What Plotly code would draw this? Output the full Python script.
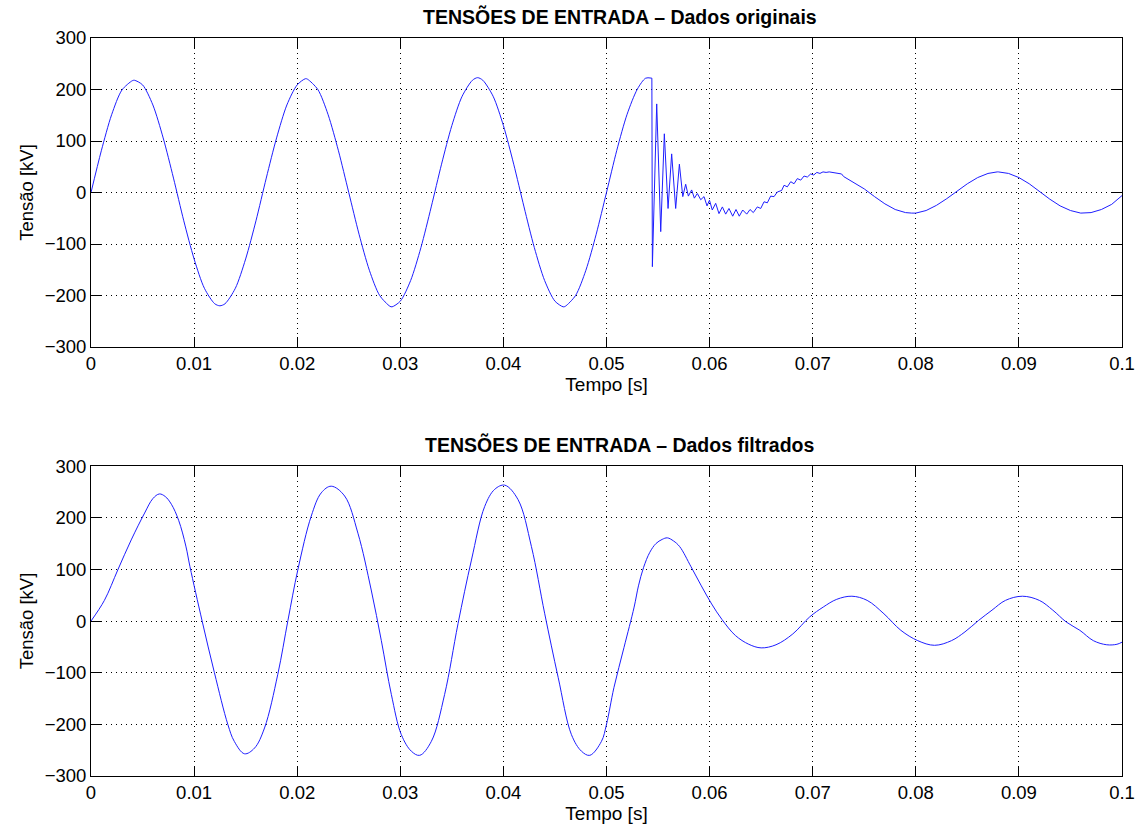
import plotly.graph_objects as go

# ---------------- data ----------------
# original data, before the fault (smooth sine part)
t_orig_pre = [0, .001, .002, .003, .004, .0042, .005, .006, .007, .008, .009, .010, .011, .012, .0125,
              .013, .014, .015, .016, .017, .018, .019, .020, .0208, .021, .022, .023, .024, .025, .026,
              .027, .028, .029, .0292, .030, .031, .032, .033, .034, .035, .036, .037, .0375, .038, .039,
              .040, .041, .042, .043, .044, .045, .0458, .046, .047, .048, .049, .050, .051, .052, .053,
              .0538, .0544]
v_orig_pre = [0, 81, 151, 199, 217, 218, 209, 170, 106, 28, -55, -129, -186, -216, -220,
              -216, -186, -129, -55, 28, 106, 170, 209, 221, 220, 200, 151, 81, 0, -81,
              -151, -200, -221, -222, -211, -171, -107, -28, 55, 130, 187, 218, 223, 218, 187,
              130, 55, -28, -107, -171, -211, -222, -221, -200, -151, -81, 0, 82, 152, 201,
              222, 222]
# original data, fault transient and after
t_orig_post = [.0544, .05445, .05487, .05526, .05561, .05597, .05632, .05671, .05707, .0574, .05768, .05794,
               .05826, .05852, .05881, .05914, .05946, .05975, .05999, .06026, .06059, .06091, .06124,
               .06156, .06188, .06224, .06256, .06288, .06321, .0636, .06392, .06424, .06463, .06496,
               .06528, .0656, .06592, .06625, .06657, .06699, .06722, .06754, .06787, .06819, .06851,
               .06884, .06916, .06948, .0698, .0701, .0704, .0707, .0710, .0713, .0716, .0720, .0724,
               .0728, .073, .074, .075, .076, .077, .078, .079, .0796, .080, .081, .082, .083, .084, .085,
               .086, .087, .0879, .088, .089, .090, .091, .092, .093, .094, .095, .096, .0963, .097, .098,
               .099, .100]
v_orig_post = [222, -144, 172, -76, 114, -31, 75, -31, 55, -8, 16, -7,
               5, -11, -2, -14, -8, -26, -15, -34, -21, -41, -28,
               -42, -31, -46, -33, -46, -34, -42, -33, -39, -28, -31,
               -18, -20, -7, -8, 1, 4, 14, 11, 21, 17, 27,
               24, 32, 30, 36, 34, 39, 37, 40, 39, 40, 39, 37,
               36, 31, 19, 7, -8, -22, -33, -39, -40, -40, -35, -25, -12, 3, 17,
               29, 37, 40, 40, 37, 29, 17, 2, -13, -26, -35, -40, -40, -39, -33,
               -23, -6]

t_filt = [0, .0013, .0026, .0039, .0052, .0060, .00663, .0072, .0078, .0085, .0092, .0096, .01078, .01197,
          .01327, .0139, .01489, .01586, .01683, .01812, .0191, .02006, .02136, .02233, .0233, .0246,
          .02589, .02718, .02816, .02913, .0301, .03107, .03188, .03301, .0343, .0356, .0369,
          .03819, .03916, .04013, .04142, .04272, .04401, .04531, .0466, .04757, .04838, .04951,
          .0500, .05072, .0517, .05268, .0531, .0536, .0542, .0548, .0554, .0559, .0565, .0571,
          .0582, .0592, .0602, .0612, .0625, .0638, .0650, .06644, .06807, .06971, .07102, .07233,
          .0738, .07528, .07691, .07855, .08019, .08182, .08346, .08477, .08608, .08739, .0887,
          .09034, .09198, .09329, .0946, .09591, .09722, .09852, .09951, .1]
v_filt = [0, 40, 99, 157, 209, 237, 246, 241, 226, 195, 145, 105, 0, -100,
          -200, -233, -257, -246, -207, -103, 1, 99, 203, 248, 261, 242,
          170, 60, -38, -142, -220, -252, -260, -233, -142, -5, 118,
          222, 255, 263, 235, 144, 14, -109, -220, -252, -260, -233,
          -200, -129, -51, 27, 68, 104, 133, 150, 158, 161, 155, 144,
          105, 68, 33, 3, -28, -45, -52, -46, -25, 8, 27, 42,
          48, 40, 14, -18, -38, -47, -38, -21, 1, 21, 40,
          48, 40, 21, -2, -18, -38, -46, -45, -41]

x_ticks = [0, 0.01, 0.02, 0.03, 0.04, 0.05, 0.06, 0.07, 0.08, 0.09, 0.1]
x_ticklabels = ["0", "0.01", "0.02", "0.03", "0.04", "0.05", "0.06", "0.07", "0.08", "0.09", "0.1"]
y_ticks = [-300, -200, -100, 0, 100, 200, 300]
y_ticklabels = ["\u2212300", "\u2212200", "\u2212100", "0", "100", "200", "300"]

titles = ["TENSÕES DE ENTRADA \u2013 Dados originais", "TENSÕES DE ENTRADA \u2013 Dados filtrados"]
x_label = "Tempo [s]"
y_label = "Tensão [kV]"

# ---------------- figure ----------------
FONT = "Liberation Sans, Arial, sans-serif"
LINE = dict(color="rgb(30,30,255)", width=1)
fig = go.Figure()
fig.add_trace(go.Scatter(x=t_orig_pre, y=v_orig_pre, mode="lines", xaxis="x", yaxis="y",
                         line=dict(**LINE, shape="spline", smoothing=0.8), showlegend=False))
fig.add_trace(go.Scatter(x=t_orig_post, y=v_orig_post, mode="lines", xaxis="x", yaxis="y",
                         line=dict(**LINE), showlegend=False))
fig.add_trace(go.Scatter(x=t_filt, y=v_filt, mode="lines", xaxis="x2", yaxis="y2",
                         line=dict(**LINE, shape="spline", smoothing=1.0),
                         showlegend=False))

GRIDDASH = "1px,4px"

def xax(anchor):
    return dict(range=[0, 0.1], tickvals=x_ticks, ticktext=x_ticklabels, anchor=anchor,
                automargin=False,
                showline=True, linecolor="black", linewidth=1, mirror="allticks",
                ticks="inside", ticklen=10, tickcolor="black", tickwidth=1,
                showgrid=True, gridcolor="black", griddash=GRIDDASH, gridwidth=1, zeroline=False,
                tickfont=dict(family=FONT, size=18.5, color="black"),
                title=dict(text=x_label, font=dict(family=FONT, size=19, color="black"), standoff=2))

def yax(anchor, domain):
    return dict(range=[-300, 300], tickvals=y_ticks, ticktext=y_ticklabels, anchor=anchor,
                domain=domain, automargin=False,
                showline=True, linecolor="black", linewidth=1, mirror="allticks",
                ticks="inside", ticklen=10, tickcolor="black", tickwidth=1,
                showgrid=True, gridcolor="black", griddash=GRIDDASH, gridwidth=1, zeroline=False,
                tickfont=dict(family=FONT, size=18.5, color="black"),
                title=dict(text=y_label, font=dict(family=FONT, size=18.5, color="black"), standoff=6))

fig.update_layout(
    width=1144, height=827,
    margin=dict(l=91, r=22, t=38, b=51),
    plot_bgcolor="white", paper_bgcolor="white",
    xaxis=xax("y"), yaxis=yax("x", [0.5813, 1.0]),
    xaxis2=xax("y2"), yaxis2=yax("x2", [0.0, 0.42]),
)

for txt, ypos in zip(titles, [1.0, 0.42]):
    fig.add_annotation(text="<b>" + txt + "</b>", xref="paper", yref="paper", x=0.5, y=ypos,
                       xshift=13, yshift=8, xanchor="center", yanchor="bottom", showarrow=False,
                       font=dict(family=FONT, size=19.5, color="black"))

fig.write_html("out.html")
